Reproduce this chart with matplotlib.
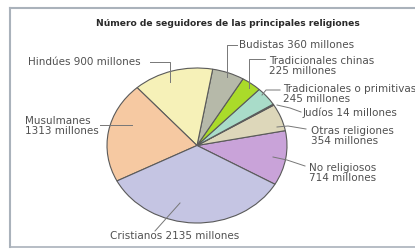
import matplotlib
matplotlib.use("Agg")
import matplotlib.pyplot as plt

# religions, counter-clockwise starting at the right side of the pie
religions = ["No religiosos", "Otras religiones", "Judíos", "Tradicionales o primitivas",
             "Tradicionales chinas", "Budistas", "Hindúes", "Musulmanes", "Cristianos"]
followers = [714, 354, 14, 245, 225, 360, 900, 1313, 2135]
colors = ["#c9a3d9", "#ddd7ba", "#4f6e5e", "#a9dcc9", "#aadb2a", "#b6b9a9",
          "#f6f1b8", "#f6c9a2", "#c5c5e3"]

labels = {
    "No religiosos": "No religiosos\n714 millones",
    "Otras religiones": "Otras religiones\n354 millones",
    "Judíos": "Judíos 14 millones",
    "Tradicionales o primitivas": "Tradicionales o primitivas\n245 millones",
    "Tradicionales chinas": "Tradicionales chinas\n225 millones",
    "Budistas": "Budistas 360 millones",
    "Hindúes": "Hindúes 900 millones",
    "Musulmanes": "Musulmanes\n1313 millones",
    "Cristianos": "Cristianos 2135 millones",
}
title = "Número de seguidores de las principales religiones"

W, H = 415, 250
fig = plt.figure(figsize=(W / 100, H / 100), dpi=100)
fig.patch.set_facecolor("white")

# pie axes (slightly squashed, like the scanned chart)
px0, py0, px1, py1 = 107, 68, 287, 223
ax = fig.add_axes([px0 / W, 1 - py1 / H, (px1 - px0) / W, (py1 - py0) / H])
ax.pie(followers, colors=colors, startangle=-30, counterclock=True,
       wedgeprops=dict(edgecolor="#5a5a5a", linewidth=0.8))
ax.set_aspect("auto")
ax.set_xlim(-1, 1)
ax.set_ylim(-1, 1)
ax.axis("off")

# overlay for text, leader lines and frame (pixel coordinates)
ov = fig.add_axes([0, 0, 1, 1], facecolor="none")
ov.set_xlim(0, W)
ov.set_ylim(H, 0)
ov.axis("off")

frame_c = "#aab2bb"
ov.plot([10, 10], [8, 247], color=frame_c, lw=1.5)
ov.plot([10, W], [8, 8], color=frame_c, lw=1.5)
ov.plot([10, W], [247, 247], color=frame_c, lw=1.2)

ov.text(228, 23, title, ha="center", va="center", fontsize=6.6,
        fontweight="bold", color="#2a2a2a")

tc = "#505050"
fs = 7.5
lc = "#777777"

# (label key, text x, text y, leader line xs, ys)
placements = [
    ("Budistas", 239, 45, [237, 227, 227], [45, 45, 77]),
    ("Tradicionales chinas", 269, 66, [265, 249, 249], [59, 59, 88]),
    ("Tradicionales o primitivas", 283, 94, [280, 266, 262], [90, 90, 95]),
    ("Judíos", 303, 113, [301, 290, 277], [112, 108, 105]),
    ("Otras religiones", 311, 136, [306, 288, 277], [129, 126, 127]),
    ("No religiosos", 309, 173, [305, 287, 273], [166, 160, 157]),
    ("Cristianos", 110, 236, [155, 180], [231, 203]),
    ("Musulmanes", 25, 126, [100, 132], [125, 125]),
    ("Hindúes", 28, 62, [150, 170, 170], [62, 62, 82]),
]
for key, tx, ty, lx, ly in placements:
    ov.plot(lx, ly, color=lc, lw=0.7)
    ov.text(tx, ty, labels[key], ha="left", va="center", fontsize=fs,
            color=tc, linespacing=1.1)

fig.savefig("out.png", dpi=100)
